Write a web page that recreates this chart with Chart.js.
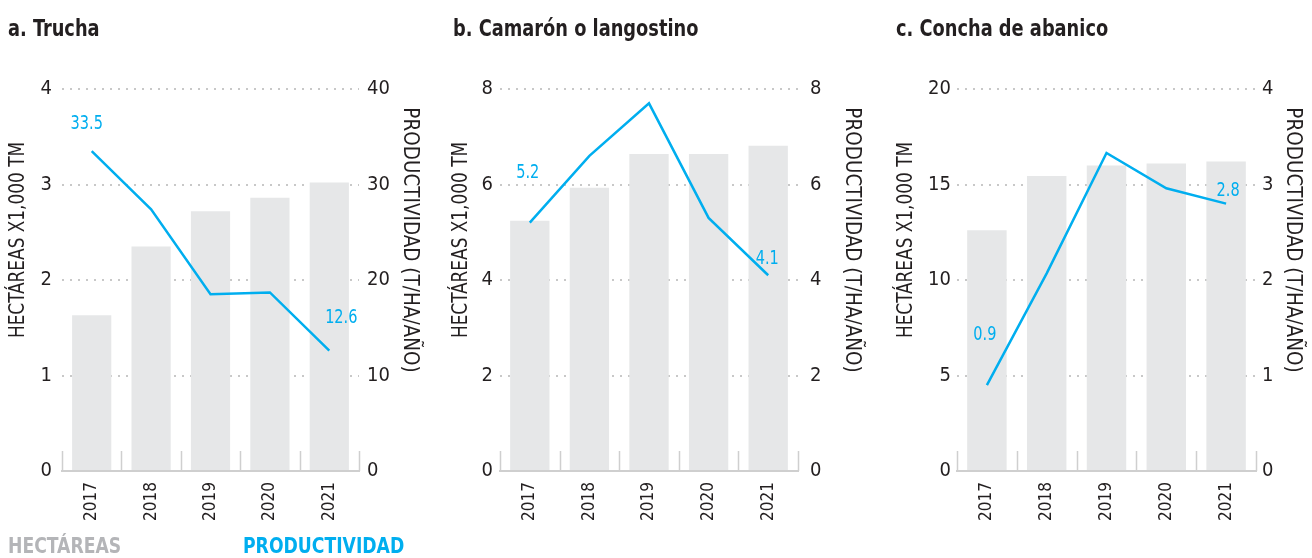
<!DOCTYPE html>
<html>
<head>
<meta charset="utf-8">
<script src="https://cdn.jsdelivr.net/npm/chart.js@4.4.0/dist/chart.umd.min.js"></script>
<style>
  body { margin: 0; background: #fff; }
  #page { position: relative; width: 1312px; height: 558px; overflow: hidden;
          font-family: "Liberation Sans Narrow", "DejaVu Sans Condensed", sans-serif; }
  .box { position: absolute; top: 0; height: 558px; }
  .head { position: absolute; top: 17px; margin: 0; font-size: 23px; line-height: 23px;
          font-weight: bold; color: #231f20; white-space: nowrap;
          transform: scaleX(0.86); transform-origin: 0 0; }
  .key { position: absolute; top: 535px; font-size: 22px; line-height: 22px; font-weight: bold; white-space: nowrap;
         transform: scaleX(0.87); transform-origin: 0 0; }
</style>
</head>
<body>
<div id="page">
  <div class="box" style="left:0;width:437px"><canvas id="trucha" width="437" height="558"></canvas></div>
  <div class="box" style="left:437px;width:437px"><canvas id="camaron" width="437" height="558"></canvas></div>
  <div class="box" style="left:874px;width:438px"><canvas id="concha" width="438" height="558"></canvas></div>
  <h2 class="head" style="left:8px">a. Trucha</h2>
  <h2 class="head" style="left:453px">b. Camarón o langostino</h2>
  <h2 class="head" style="left:896px">c. Concha de abanico</h2>
  <div class="key" style="left:8px;color:#b4b5b8">HECTÁREAS</div>
  <div class="key" style="left:243px;color:#00aeef">PRODUCTIVIDAD</div>
</div>
<script>
const years = ['2017', '2018', '2019', '2020', '2021'];

// hectáreas (x1,000) and productividad (t/ha/año) per species
const truchaHa = [1.63, 2.35, 2.72, 2.86, 3.02];
const truchaProd = [33.5, 27.4, 18.5, 18.7, 12.6];
const camaronHa = [5.24, 5.93, 6.64, 6.64, 6.81];
const camaronProd = [5.2, 6.6, 7.7, 5.3, 4.1];
const conchaHa = [12.6, 15.45, 16.0, 16.1, 16.2];
const conchaProd = [0.9, 2.07, 3.33, 2.96, 2.8];

const FONT = '"Liberation Sans Narrow", "DejaVu Sans Condensed", sans-serif';
const INK = '#231f20';
const BLUE = '#00aeef';
const BAR = '#e6e7e8';
const RULE = '#cfcfcf';

// short separators standing up from the base line between the year columns
const columnTicks = {
  id: 'columnTicks',
  beforeDatasetsDraw(chart) {
    const x = chart.scales.x, ctx = chart.ctx, bottom = chart.chartArea.bottom;
    ctx.save();
    ctx.strokeStyle = RULE;
    ctx.lineWidth = 1.5;
    for (let i = 0; i <= x.ticks.length; i++) {
      const px = Math.round(x.getPixelForValue(i - 0.5)) + 0.5;
      ctx.beginPath();
      ctx.moveTo(px, bottom);
      ctx.lineTo(px, bottom - 20);
      ctx.stroke();
    }
    ctx.restore();
  }
};

// narrowed text, the condensed face is still a bit wide
function narrowText(ctx, text, x, y, angle, squeeze, font, color) {
  ctx.save();
  ctx.font = font;
  ctx.fillStyle = color;
  ctx.textAlign = 'center';
  ctx.textBaseline = 'middle';
  ctx.translate(x, y);
  ctx.rotate(angle);
  ctx.scale(squeeze, 1);
  ctx.fillText(text, 0, 0);
  ctx.restore();
}

// value labels on the first and last point of the line
const endLabels = {
  id: 'endLabels',
  afterDatasetsDraw(chart, args, opts) {
    const meta = chart.getDatasetMeta(1);
    const data = chart.data.datasets[1].data;
    (opts.items || []).forEach(({ index, dx, dy }) => {
      const pt = meta.data[index];
      narrowText(chart.ctx, data[index].toFixed(1), pt.x + dx, pt.y + dy, 0, 0.85, '19px ' + FONT, BLUE);
    });
  }
};

// rotated axis titles on both sides
const sideTitles = {
  id: 'sideTitles',
  afterDraw(chart, args, opts) {
    const { ctx, chartArea } = chart;
    const cy = chartArea.top + 151;
    narrowText(ctx, 'HECTÁREAS X1,000 TM', chartArea.left + opts.left, cy, -Math.PI / 2, 0.855, '22px ' + FONT, INK);
    narrowText(ctx, 'PRODUCTIVIDAD (T/HA/AÑO)', chartArea.right + opts.right, cy, Math.PI / 2, 0.93, '22px ' + FONT, INK);
  }
};

function panel(id, p) {
  return new Chart(document.getElementById(id), {
    type: 'bar',
    data: {
      labels: years,
      datasets: [
        { type: 'bar', data: p.area, yAxisID: 'yL', backgroundColor: BAR, order: 2,
          categoryPercentage: 1, barPercentage: 0.66 },
        { type: 'line', data: p.prod, yAxisID: 'yR', borderColor: BLUE, borderWidth: 2.5,
          pointRadius: 0, tension: 0, fill: false, order: 1 }
      ]
    },
    options: {
      responsive: false,
      animation: false,
      layout: { padding: { top: 89, bottom: 27, left: 0, right: 0 } },
      plugins: {
        legend: { display: false },
        tooltip: { enabled: false },
        endLabels: { items: p.labels },
        sideTitles: p.titles
      },
      scales: {
        x: {
          offset: true,
          grid: { display: true, drawOnChartArea: false, drawTicks: false, color: 'transparent' },
          border: { display: true, color: RULE, width: 2 },
          ticks: { color: INK, font: { family: FONT, size: 17 }, padding: 11,
                   minRotation: 90, maxRotation: 90, autoSkip: false },
          afterFit: s => { s.height = 60; }
        },
        yL: {
          position: 'left',
          min: 0, max: p.leftMax,
          ticks: { stepSize: p.leftStep, color: INK, font: { family: FONT, size: 20 }, padding: p.leftPad },
          grid: { drawTicks: false, lineWidth: 2,
                  color: c => c.tick.value === 0 ? 'transparent' : '#c8c8c8' },
          border: { display: false, dash: [2, 6] },
          afterFit: s => { s.width = p.leftW; }
        },
        yR: {
          position: 'right',
          min: 0, max: p.rightMax,
          ticks: { stepSize: p.rightStep, color: INK, font: { family: FONT, size: 20 }, padding: p.rightPad },
          grid: { display: false, drawTicks: false },
          border: { display: false },
          afterFit: s => { s.width = p.rightW; }
        }
      }
    },
    plugins: [columnTicks, endLabels, sideTitles]
  });
}

panel('trucha', {
  area: truchaHa, prod: truchaProd,
  leftMax: 4, leftStep: 1, rightMax: 40, rightStep: 10,
  leftW: 62, rightW: 78, leftPad: 10, rightPad: 8,
  titles: { left: -44, right: 51 },
  labels: [{ index: 0, dx: -5, dy: -27 }, { index: 4, dx: 12, dy: -33 }]
});

panel('camaron', {
  area: camaronHa, prod: camaronProd,
  leftMax: 8, leftStep: 2, rightMax: 8, rightStep: 2,
  leftW: 63, rightW: 76, leftPad: 7, rightPad: 12,
  titles: { left: -39, right: 54 },
  labels: [{ index: 0, dx: -2, dy: -50 }, { index: 4, dx: -1, dy: -16 }]
});

panel('concha', {
  area: conchaHa, prod: conchaProd,
  leftMax: 20, leftStep: 5, rightMax: 4, rightStep: 1,
  leftW: 83, rightW: 56, leftPad: 6, rightPad: 6,
  titles: { left: -51, right: 37 },
  labels: [{ index: 0, dx: -2, dy: -50 }, { index: 4, dx: 2, dy: -13 }]
});
</script>
</body>
</html>
